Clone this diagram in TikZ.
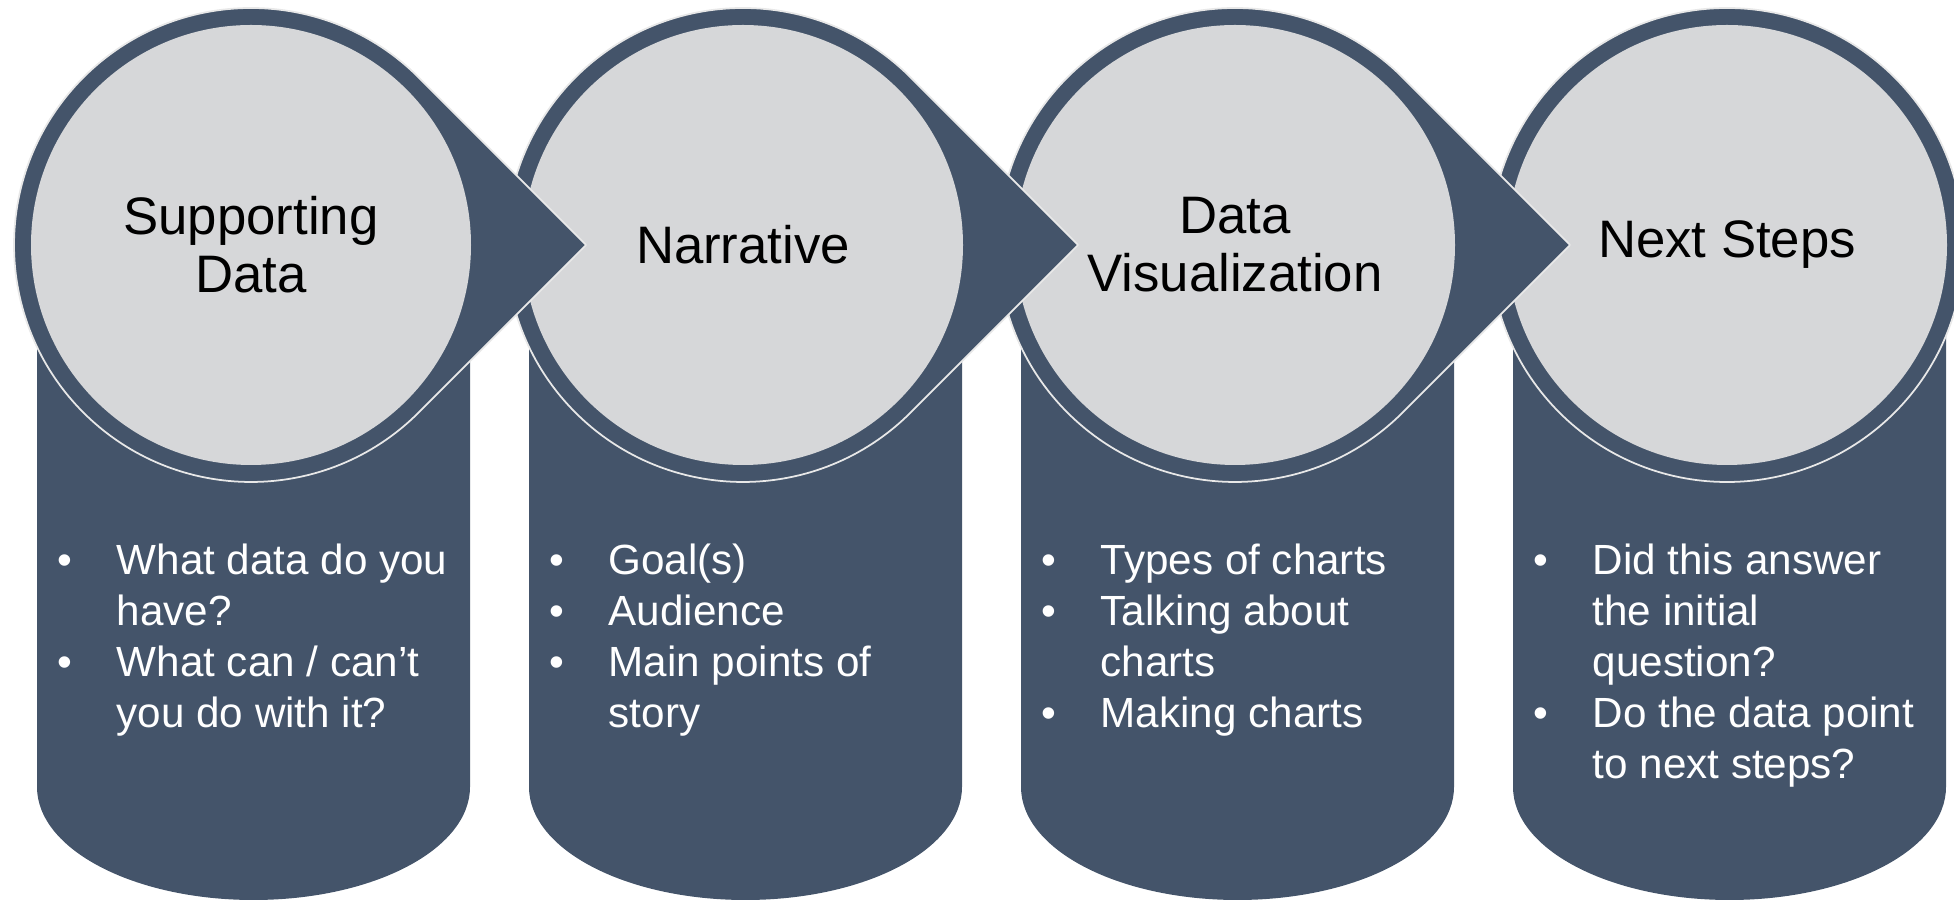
\documentclass[tikz,border=0pt]{standalone}
\usepackage{fontspec}
\setmainfont{Liberation Sans}
\usetikzlibrary{calc,positioning}
\definecolor{slate}{HTML}{44546A}
\definecolor{pale}{HTML}{D6D7D9}
\definecolor{rim}{HTML}{E8E8E8}
\newcommand{\bul}{\strut\makebox[0.59cm][l]{\textbullet}}
\newcommand{\ind}{\hspace*{0.59cm}}

\begin{document}
\begin{tikzpicture}[x=0.01cm, y=0.01cm, line join=round,
  can/.style={fill=slate},
  drop/.style={fill=slate, draw=rim, line width=0.5pt},
  disc/.style={fill=pale},
  title/.style={align=center, inner sep=0pt, font=\fontsize{15}{16.5}\selectfont},
  points/.style={align=left, inner sep=0pt, anchor=north west, text=white, font=\fontsize{12}{14.5}\selectfont}]
\useasboundingbox (0,0) rectangle (1954,-901);
\coordinate (A) at (251,-245);
\coordinate (B) at (743,-245);
\coordinate (C) at (1235,-245);
\coordinate (D) at (1727,-245);
% columns under the circles
\fill[can] ($(A)+(-214,0)$) -- ++(0,-542) arc[start angle=180, end angle=360, x radius=216.5, y radius=113] -- ++(0,542) -- cycle;
\fill[can] ($(B)+(-214,0)$) -- ++(0,-542) arc[start angle=180, end angle=360, x radius=216.5, y radius=113] -- ++(0,542) -- cycle;
\fill[can] ($(C)+(-214,0)$) -- ++(0,-542) arc[start angle=180, end angle=360, x radius=216.5, y radius=113] -- ++(0,542) -- cycle;
\fill[can] ($(D)+(-214,0)$) -- ++(0,-542) arc[start angle=180, end angle=360, x radius=216.5, y radius=113] -- ++(0,542) -- cycle;
% circles, last one first so each arrow lies on the next circle
\draw[drop] (D) circle[radius=237];
\fill[disc] (D) circle[radius=220];
\draw[drop] ($(C)+(335,0)$) -- ($(C)+(167.6,167.6)$) arc[start angle=45, end angle=315, radius=237] -- cycle;
\fill[disc] (C) circle[radius=220];
\draw[drop] ($(B)+(335,0)$) -- ($(B)+(167.6,167.6)$) arc[start angle=45, end angle=315, radius=237] -- cycle;
\fill[disc] (B) circle[radius=220];
\draw[drop] ($(A)+(335,0)$) -- ($(A)+(167.6,167.6)$) arc[start angle=45, end angle=315, radius=237] -- cycle;
\fill[disc] (A) circle[radius=220];
% titles
\node[title] (tA) at (A) {Supporting\\Data};
\node[title] (tB) at (B) {Narrative};
\node[title] (tC) at (C) {Data\\Visualization};
\node[title] (tD) at (D) {Next Steps};
% bullet lists
\node[points] (pA) at ($(A)+(-194,-293)$) {\bul What data do you\\\ind have?\\\bul What can / can’t\\\ind you do with it?};
\node[points] (pB) at ($(B)+(-194,-293)$) {\bul Goal(s)\\\bul Audience\\\bul Main points of\\\ind story};
\node[points] (pC) at ($(C)+(-194,-293)$) {\bul Types of charts\\\bul Talking about\\\ind charts\\\bul Making charts};
\node[points] (pD) at ($(D)+(-194,-293)$) {\bul Did this answer\\\ind the initial\\\ind question?\\\bul Do the data point\\\ind to next steps?};
\end{tikzpicture}
\end{document}
